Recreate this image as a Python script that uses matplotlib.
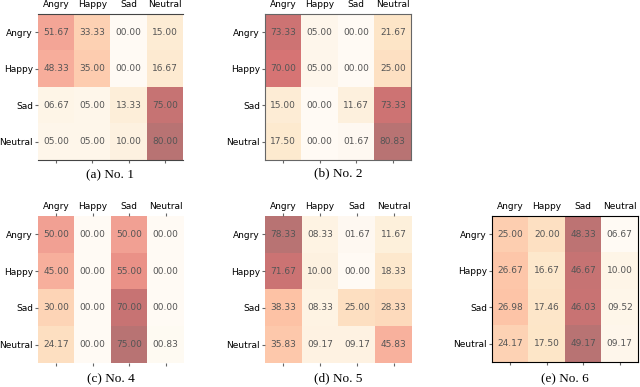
import numpy as np
import matplotlib
matplotlib.use("Agg")
from matplotlib import pyplot as plt

labels = ["Angry", "Happy", "Sad", "Neutral"]

cm_no1 = [[51.67, 33.33, 0.00, 15.00],
          [48.33, 35.00, 0.00, 16.67],
          [6.67, 5.00, 13.33, 75.00],
          [5.00, 5.00, 10.00, 80.00]]

cm_no2 = [[73.33, 5.00, 0.00, 21.67],
          [70.00, 5.00, 0.00, 25.00],
          [15.00, 0.00, 11.67, 73.33],
          [17.50, 0.00, 1.67, 80.83]]

cm_no4 = [[50.00, 0.00, 50.00, 0.00],
          [45.00, 0.00, 55.00, 0.00],
          [30.00, 0.00, 70.00, 0.00],
          [24.17, 0.00, 75.00, 0.83]]

cm_no5 = [[78.33, 8.33, 1.67, 11.67],
          [71.67, 10.00, 0.00, 18.33],
          [38.33, 8.33, 25.00, 28.33],
          [35.83, 9.17, 9.17, 45.83]]

cm_no6 = [[25.00, 20.00, 48.33, 6.67],
          [26.67, 16.67, 46.67, 10.00],
          [26.98, 17.46, 46.03, 9.52],
          [24.17, 17.50, 49.17, 9.17]]

captions = ["(a) No. 1", "(b) No. 2", "(c) No. 4", "(d) No. 5", "(e) No. 6"]

# panel boxes in pixels: left, top, right, bottom
W, H = 640, 387
boxes = [(38, 14, 183, 160),
         (265, 14, 411, 160),
         (38, 216, 184, 363),
         (265, 216, 412, 363),
         (492, 216, 638, 362)]
cap_y = [175, 173, 379, 378, 379]
# which spines show, and their colour
spine_style = [({"top", "bottom"}, "#444444"),
               ({"top", "bottom", "left", "right"}, "#666666"),
               (set(), "#999999"),
               (set(), "#999999"),
               ({"top", "bottom", "left", "right"}, "black")]
top_tick_len = [0, 0, 2, 2, 0]


def draw_cm(ax, cm, spines, spine_color, top_len):
    cm = np.array(cm)
    ax.imshow(cm, cmap="OrRd", alpha=0.55, aspect="auto",
              vmin=cm.min(), vmax=cm.max())
    for i in range(cm.shape[0]):
        for j in range(cm.shape[1]):
            ax.text(j, i, "%05.2f" % cm[i, j], ha="center", va="center",
                    fontsize=6.5, color="#555555")
    ax.set_xticks(range(len(labels)))
    ax.set_yticks(range(len(labels)))
    ax.set_xticklabels(labels, fontsize=6.5)
    ax.set_yticklabels(labels, fontsize=6.5)
    ax.tick_params(axis="x", top=True, labeltop=True, bottom=True,
                   labelbottom=False, pad=1, color="#666666")
    ax.tick_params(axis="x", which="major", length=2.5)
    ax.tick_params(axis="y", length=2.5, pad=1, color="#666666")
    ax.xaxis.set_tick_params(which="major", top=top_len > 0)
    for name, sp in ax.spines.items():
        sp.set_visible(name in spines)
        sp.set_color(spine_color)
        sp.set_linewidth(0.8)


fig = plt.figure(figsize=(W / 100, H / 100), dpi=100)
data = [cm_no1, cm_no2, cm_no4, cm_no5, cm_no6]
for k, cm in enumerate(data):
    l, t, r, b = boxes[k]
    ax = fig.add_axes([l / W, 1 - b / H, (r - l) / W, (b - t) / H])
    draw_cm(ax, cm, spine_style[k][0], spine_style[k][1], top_tick_len[k])
    fig.text((l + r) / 2 / W, 1 - cap_y[k] / H, captions[k],
             ha="center", va="center", fontsize=9.5,
             family="Liberation Serif")

fig.savefig("out.png", dpi=100)
